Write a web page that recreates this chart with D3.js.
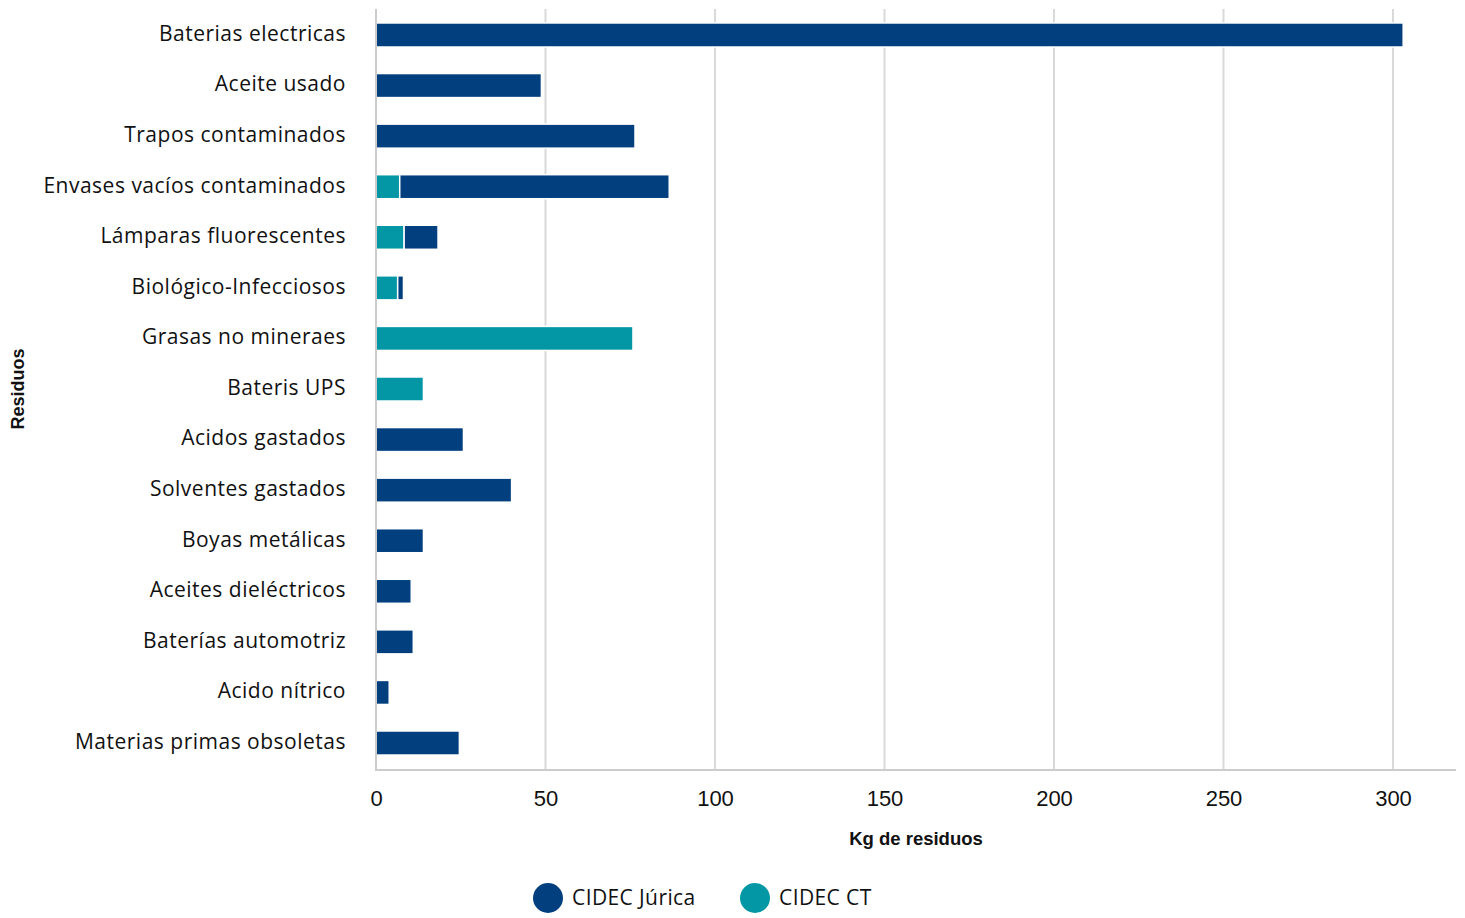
<!DOCTYPE html>
<html>
<head>
<meta charset="utf-8">
<script src="https://cdn.jsdelivr.net/npm/d3@7"></script>
<style>
  html, body { margin: 0; padding: 0; background: #fff; }
  svg { display: block; }
</style>
</head>
<body>
<svg id="chart" width="1465" height="918"></svg>
<script>
// Waste categories, top to bottom
const categories = [
  "Baterias electricas",
  "Aceite usado",
  "Trapos contaminados",
  "Envases vacíos contaminados",
  "Lámparas fluorescentes",
  "Biológico-Infecciosos",
  "Grasas no mineraes",
  "Bateris UPS",
  "Acidos gastados",
  "Solventes gastados",
  "Boyas metálicas",
  "Aceites dieléctricos",
  "Baterías automotriz",
  "Acido nítrico",
  "Materias primas obsoletas"
];

// Kg of waste per site
const cidecCT = [0, 0, 0, 7, 8.3, 6.4, 75.8, 14, 0, 0, 0, 0, 0, 0, 0];
const cidecJurica = [303, 48.8, 76.4, 79.5, 10, 1.7, 0, 0, 25.8, 40, 14, 10.4, 11, 3.9, 24.6];

const xTicks = [0, 50, 100, 150, 200, 250, 300];
const seriesNames = ["CIDEC Júrica", "CIDEC CT"];

const colors = { jurica: "#023f7e", ct: "#0397a5" };
const labelFont = "'Open Sans', 'Noto Sans', sans-serif";
const numFont = "'Liberation Sans', Arial, sans-serif";

const svg = d3.select("#chart");
const plotLeft = 376, plotRight = 1456, plotTop = 9, plotBottom = 770;

const x = d3.scaleLinear().domain([0, 300]).range([plotLeft, 1393]);
const y = d3.scaleBand().domain(categories).range([9.7, 768.3])
  .paddingInner(0.525).paddingOuter(0.2625);

// vertical grid lines
svg.append("g").selectAll("line").data(xTicks.slice(1)).join("line")
  .attr("x1", d => x(d)).attr("x2", d => x(d))
  .attr("y1", plotTop).attr("y2", plotBottom)
  .attr("stroke", "#d9d9d9").attr("stroke-width", 2);

// stacked bars: CT first, Júrica after it
const rows = categories.map((c, i) => ({ cat: c, ct: cidecCT[i], ju: cidecJurica[i] }));
const barG = svg.append("g");
rows.forEach(r => {
  const segs = [];
  if (r.ct > 0) segs.push({ x0: 0, x1: r.ct, color: colors.ct });
  if (r.ju > 0) segs.push({ x0: r.ct, x1: r.ct + r.ju, color: colors.jurica });
  barG.selectAll(null).data(segs).enter().append("rect")
    .attr("x", d => x(d.x0))
    .attr("y", y(r.cat))
    .attr("width", d => x(d.x1) - x(d.x0))
    .attr("height", y.bandwidth())
    .attr("fill", d => d.color)
    .attr("stroke", "#fff")
    .attr("stroke-width", 1.5);
});

// axis lines
svg.append("line").attr("x1", plotLeft).attr("x2", plotLeft).attr("y1", plotTop).attr("y2", plotBottom + 1)
  .attr("stroke", "#cccccc").attr("stroke-width", 2);
svg.append("line").attr("x1", plotLeft).attr("x2", plotRight).attr("y1", plotBottom).attr("y2", plotBottom)
  .attr("stroke", "#cccccc").attr("stroke-width", 2);

// x tick labels
const xAxis = d3.axisBottom(x).tickValues(xTicks).tickSize(0).tickPadding(0);
const gx = svg.append("g").attr("transform", `translate(0, ${plotBottom})`).call(xAxis);
gx.select(".domain").remove();
gx.selectAll("text")
  .attr("dy", null).attr("y", 36)
  .attr("font-family", numFont)
  .attr("font-size", 22).attr("fill", "#111");

// category labels
const yAxis = d3.axisLeft(y).tickSize(0).tickPadding(0);
const gy = svg.append("g").attr("transform", `translate(346, 0)`).call(yAxis);
gy.select(".domain").remove();
gy.selectAll("text")
  .attr("x", 0).attr("dy", "0.28em")
  .attr("font-family", labelFont)
  .attr("font-size", 21).attr("letter-spacing", "0.5px").attr("fill", "#111");

// axis titles
svg.append("text").attr("x", 916).attr("y", 845).attr("text-anchor", "middle")
  .attr("font-family", numFont).attr("font-weight", "bold")
  .attr("font-size", 18.5).attr("fill", "#111").text("Kg de residuos");
svg.append("text").attr("transform", "translate(24, 389) rotate(-90)").attr("text-anchor", "middle")
  .attr("font-family", numFont).attr("font-weight", "bold")
  .attr("font-size", 18).attr("fill", "#111").text("Residuos");

// legend
const legendItems = [
  { name: seriesNames[0], color: colors.jurica, cx: 548 },
  { name: seriesNames[1], color: colors.ct, cx: 755 }
];
const lg = svg.append("g");
legendItems.forEach(d => {
  lg.append("circle").attr("cx", d.cx).attr("cy", 898).attr("r", 15).attr("fill", d.color);
  lg.append("text").attr("x", d.cx + 24).attr("y", 898).attr("dy", "0.35em")
    .attr("font-family", labelFont).attr("letter-spacing", "0.4px")
    .attr("font-size", 21).attr("fill", "#111").text(d.name);
});
</script>
</body>
</html>
